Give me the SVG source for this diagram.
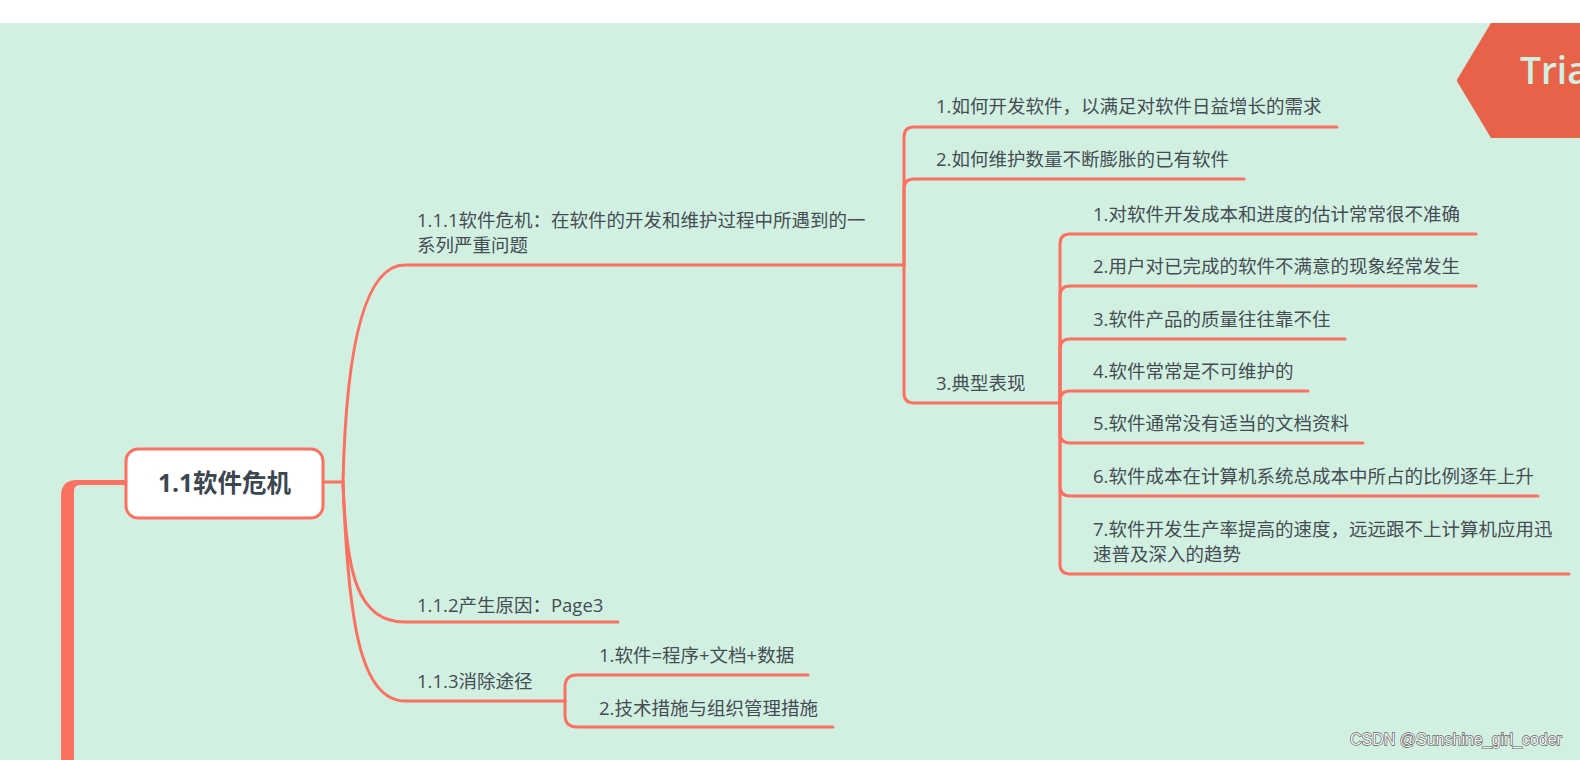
<svg xmlns="http://www.w3.org/2000/svg" width="1580" height="760" viewBox="0 0 1580 760">
<style>
.conn{fill:none;stroke:#fb7060;stroke-width:3;stroke-linecap:round;stroke-linejoin:round}
.t{font-family:"Open Sans","Noto Sans CJK SC",sans-serif;font-size:18.5px;fill:#454d52}
.root{font-family:"Open Sans","Noto Sans CJK SC",sans-serif;font-size:24.5px;font-weight:bold;fill:#3c4650}
</style>
<rect x="0" y="0" width="1580" height="760" fill="#d1f0e2"/>
<rect x="0" y="0" width="1580" height="23" fill="#ffffff"/>
<g id="banner">
<path d="M1491 23 L1580 23 L1580 138 L1491 138 L1458 83 Q1456 80.5 1458 78 Z" fill="#e8624a"/>
<text x="1520" y="84" font-family="Open Sans, sans-serif" font-size="37" font-weight="600" fill="#d1f0e2">Tria</text>
</g>
<g id="connectors">
<path d="M61 760 L61 496 Q61 480 77 480 L126 480 L126 485 L80 485 Q74 485 74 491 L74 760 Z" fill="#fb7060"/>
<path class="conn" d="M323 482 L343 482"/>
<path class="conn" d="M343 482 Q348 265 405 265 L904 265"/>
<path class="conn" d="M343 482 C346 575 358 622 405 622 L618 622"/>
<path class="conn" d="M343 482 C348 620 360 701 405 701 L565 701"/>
<path class="conn" d="M904 265 L904 137 Q904 127 914 127 L1337 127"/>
<path class="conn" d="M904 265 L904 189 Q904 179 914 179 L1244 179"/>
<path class="conn" d="M904 265 L904 393 Q904 403 914 403 L1060 403"/>
<path class="conn" d="M1060 403 L1060 244 Q1060 234 1070 234 L1476 234"/>
<path class="conn" d="M1060 403 L1060 296 Q1060 286 1070 286 L1476 286"/>
<path class="conn" d="M1060 403 L1060 349 Q1060 339 1070 339 L1345 339"/>
<path class="conn" d="M1060 403 L1060 401 Q1060 391 1070 391 L1308 391"/>
<path class="conn" d="M1060 403 L1060 433 Q1060 443 1070 443 L1363 443"/>
<path class="conn" d="M1060 403 L1060 486 Q1060 496 1070 496 L1538 496"/>
<path class="conn" d="M1060 403 L1060 564 Q1060 574 1070 574 L1569 574"/>
<path class="conn" d="M565 701 L565 687 Q565 675 577 675 L808 675"/>
<path class="conn" d="M565 701 L565 715 Q565 727 577 727 L833 727"/>
</g>
<g id="n-root">
<rect x="126" y="449" width="197" height="69" rx="12" fill="#ffffff" stroke="#fb7060" stroke-width="3"/>
<text class="root" x="224.5" y="492" text-anchor="middle">1.1软件危机</text>
</g>
<g id="n-111">
<text class="t" x="417" y="227">1.1.1软件危机：在软件的开发和维护过程中所遇到的一</text>
<text class="t" x="417" y="252">系列严重问题</text>
</g>
<g id="n-111-1"><text class="t" x="936" y="113">1.如何开发软件，以满足对软件日益增长的需求</text></g>
<g id="n-111-2"><text class="t" x="936" y="166">2.如何维护数量不断膨胀的已有软件</text></g>
<g id="n-111-3"><text class="t" x="936" y="390">3.典型表现</text></g>
<g id="n-dx-1"><text class="t" x="1093" y="221">1.对软件开发成本和进度的估计常常很不准确</text></g>
<g id="n-dx-2"><text class="t" x="1093" y="273">2.用户对已完成的软件不满意的现象经常发生</text></g>
<g id="n-dx-3"><text class="t" x="1093" y="326">3.软件产品的质量往往靠不住</text></g>
<g id="n-dx-4"><text class="t" x="1093" y="378">4.软件常常是不可维护的</text></g>
<g id="n-dx-5"><text class="t" x="1093" y="430">5.软件通常没有适当的文档资料</text></g>
<g id="n-dx-6"><text class="t" x="1093" y="483">6.软件成本在计算机系统总成本中所占的比例逐年上升</text></g>
<g id="n-dx-7">
<text class="t" x="1093" y="536">7.软件开发生产率提高的速度，远远跟不上计算机应用迅</text>
<text class="t" x="1093" y="561">速普及深入的趋势</text>
</g>
<g id="n-112"><text class="t" x="417" y="612">1.1.2产生原因：Page3</text></g>
<g id="n-113"><text class="t" x="417" y="688">1.1.3消除途径</text></g>
<g id="n-113-1"><text class="t" x="599" y="662">1.软件=程序+文档+数据</text></g>
<g id="n-113-2"><text class="t" x="599" y="715">2.技术措施与组织管理措施</text></g>
<text x="1350" y="745" font-family="Liberation Sans, sans-serif" font-size="16" fill="#f4f4f4" stroke="#5e5e5e" stroke-width="1.3" paint-order="stroke">CSDN @Sunshine_girl_coder</text>
</svg>
